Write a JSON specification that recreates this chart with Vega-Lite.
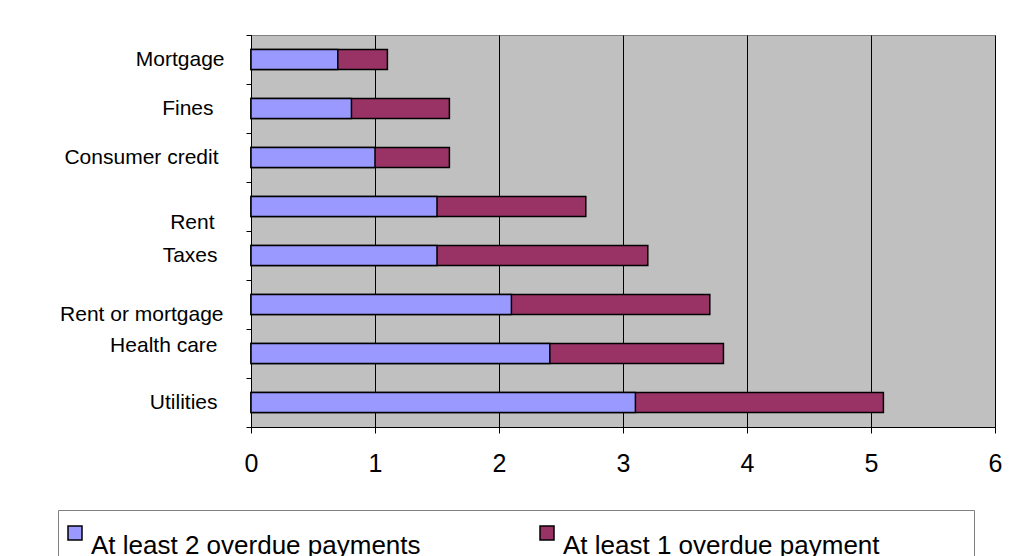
{
  "$schema": "https://vega.github.io/schema/vega-lite/v6.json",
  "width": 744,
  "height": 392,
  "autosize": {"type": "none"},
  "padding": {"left": 251, "top": 35, "right": 14, "bottom": 129},
  "background": "white",
  "data": {
    "values": [
      {"category": "Mortgage", "series": "At least 1 overdue payment", "value": 1.1},
      {"category": "Fines", "series": "At least 1 overdue payment", "value": 1.6},
      {"category": "Consumer credit", "series": "At least 1 overdue payment", "value": 1.6},
      {"category": "Rent", "series": "At least 1 overdue payment", "value": 2.7},
      {"category": "Taxes", "series": "At least 1 overdue payment", "value": 3.2},
      {"category": "Rent or mortgage", "series": "At least 1 overdue payment", "value": 3.7},
      {"category": "Health care", "series": "At least 1 overdue payment", "value": 3.81},
      {"category": "Utilities", "series": "At least 1 overdue payment", "value": 5.1},
      {"category": "Mortgage", "series": "At least 2 overdue payments", "value": 0.7},
      {"category": "Fines", "series": "At least 2 overdue payments", "value": 0.81},
      {"category": "Consumer credit", "series": "At least 2 overdue payments", "value": 1.0},
      {"category": "Rent", "series": "At least 2 overdue payments", "value": 1.5},
      {"category": "Taxes", "series": "At least 2 overdue payments", "value": 1.5},
      {"category": "Rent or mortgage", "series": "At least 2 overdue payments", "value": 2.1},
      {"category": "Health care", "series": "At least 2 overdue payments", "value": 2.41},
      {"category": "Utilities", "series": "At least 2 overdue payments", "value": 3.1}
    ]
  },
  "mark": {"type": "bar", "height": 20, "stroke": "black", "strokeWidth": 1.5, "opacity": 1},
  "encoding": {
    "y": {
      "field": "category",
      "type": "nominal",
      "sort": ["Mortgage", "Fines", "Consumer credit", "Rent", "Taxes", "Rent or mortgage", "Health care", "Utilities"],
      "scale": {"paddingInner": 0, "paddingOuter": 0},
      "axis": {
        "title": null,
        "tickBand": "extent",
        "grid": false,
        "domainColor": "black",
        "tickColor": "black",
        "tickSize": 5,
        "labelFont": "Liberation Sans",
        "labelFontSize": 21,
        "labelColor": "black",
        "labelOffset": {"expr": "datum.value === 'Rent' ? 16 : datum.value === 'Rent or mortgage' ? 10 : datum.value === 'Health care' ? -8 : 0"},
        "labelPadding": {"expr": "datum.value === 'Mortgage' ? 22 : datum.value === 'Fines' ? 33 : datum.value === 'Consumer credit' ? 28 : datum.value === 'Rent' ? 32 : datum.value === 'Rent or mortgage' ? 23 : 29"}
      }
    },
    "x": {
      "field": "value",
      "type": "quantitative",
      "stack": null,
      "scale": {"domain": [0, 6], "nice": false},
      "axis": {
        "title": null,
        "values": [0, 1, 2, 3, 4, 5, 6],
        "grid": true,
        "gridColor": "black",
        "gridOpacity": 1,
        "gridWidth": 1,
        "domainColor": "black",
        "tickColor": "black",
        "tickSize": 6,
        "labelFont": "Liberation Sans",
        "labelFontSize": 25,
        "labelColor": "black",
        "labelPadding": 18,
        "labelFlush": false
      }
    },
    "color": {
      "field": "series",
      "type": "nominal",
      "scale": {
        "domain": ["At least 2 overdue payments", "At least 1 overdue payment"],
        "range": ["#9999FF", "#993366"]
      },
      "legend": {
        "title": " ",
        "titleOrient": "right",
        "titleFontSize": 6,
        "titlePadding": 84,
        "orient": "none",
        "legendX": -193,
        "legendY": 475,
        "direction": "horizontal",
        "columns": 2,
        "columnPadding": 116,
        "padding": 10,
        "strokeColor": "#808080",
        "fillColor": "white",
        "symbolType": "square",
        "symbolSize": 196,
        "symbolOffset": -6,
        "symbolStrokeColor": "black",
        "symbolStrokeWidth": 1.5,
        "symbolOpacity": 1,
        "labelFont": "Liberation Sans",
        "labelFontSize": 26,
        "labelColor": "black",
        "labelBaseline": "top",
        "labelOffset": 3,
        "labelLimit": 500
      }
    }
  },
  "config": {
    "view": {"fill": "#C0C0C0", "stroke": "#808080", "strokeWidth": 1}
  }
}
